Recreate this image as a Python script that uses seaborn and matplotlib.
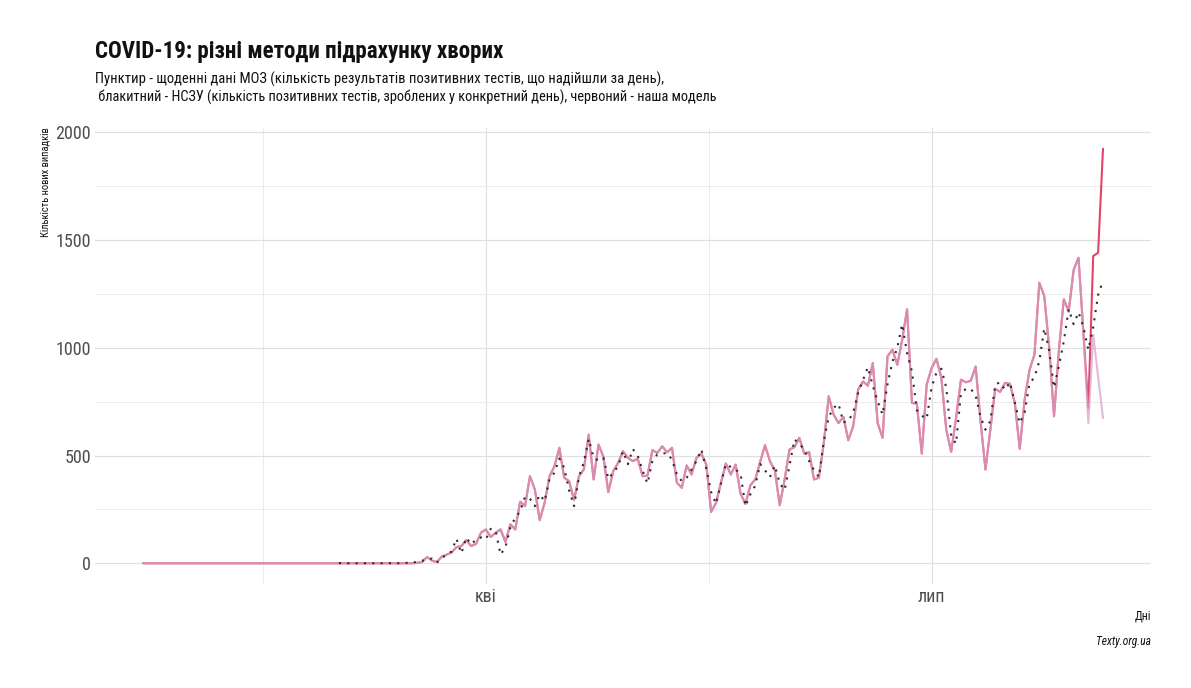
import numpy as np
import pandas as pd
import matplotlib
matplotlib.use("Agg")
import matplotlib.pyplot as plt
from matplotlib import font_manager
import seaborn as sns

# ---------------- data ----------------
model_start = "2020-01-22"   # червоний - модель / блакитний - НСЗУ
moz_start = "2020-03-02"     # пунктир - МОЗ

model_values = [
    0, 0, 0, 0, 0, 0, 0, 0, 0, 0, 0, 0, 0, 0, 0, 0, 0, 0, 0, 0, 0, 0, 0, 0, 0, 0, 0, 0,
    0, 0, 0, 0, 0, 0, 0, 0, 0, 0, 0, 0, 0, 0, 0, 0, 0, 0, 0, 0, 0, 0, 0, 0, 0, 0, 0, 0,
    2, 6, 29, 12, 6, 31, 40, 50, 75, 80, 108, 80, 90, 142,
    157, 122, 142, 157, 99, 181, 157, 286, 265, 404, 343, 200, 281, 404, 450, 536,
    397, 381, 293, 404, 435, 597, 389, 551,
    494, 330, 427, 466, 520, 489, 474, 485, 404, 407, 525, 512, 543, 515, 536, 374,
    350, 454, 412, 489, 509, 458,
    238, 281, 374, 463, 412, 458, 323, 275, 362, 389, 470, 548, 474, 431, 269, 389,
    528, 539, 582, 509, 516, 389, 397, 559, 775, 690, 651, 679, 571, 636, 806, 844,
    824, 929, 650,
    582, 960, 991, 921, 1037, 1179, 744, 741, 509, 829, 906, 949, 860, 620, 517, 674,
    852, 840, 847, 913, 660, 435, 620, 810, 795, 837, 833, 744, 531, 759, 898, 968,
    1302, 1241, 1005, 682, 990, 1225, 1168, 1361, 1418, 1070, 721, 1426, 1441, 1924,
]

nszu_values = [
    0, 0, 0, 0, 0, 0, 0, 0, 0, 0, 0, 0, 0, 0, 0, 0, 0, 0, 0, 0, 0, 0, 0, 0, 0, 0, 0, 0,
    0, 0, 0, 0, 0, 0, 0, 0, 0, 0, 0, 0, 0, 0, 0, 0, 0, 0, 0, 0, 0, 0, 0, 0, 0, 0, 0, 0,
    2, 6, 29, 12, 6, 31, 40, 50, 75, 80, 108, 80, 90, 142,
    157, 122, 142, 157, 99, 181, 157, 286, 265, 404, 343, 200, 281, 404, 450, 536,
    397, 381, 293, 404, 435, 597, 389, 551,
    494, 330, 427, 466, 520, 489, 474, 485, 404, 407, 525, 512, 543, 515, 536, 374,
    350, 454, 412, 489, 509, 458,
    238, 281, 374, 463, 412, 458, 323, 275, 362, 389, 470, 548, 474, 431, 269, 389,
    528, 539, 582, 509, 516, 389, 397, 559, 775, 690, 651, 679, 571, 636, 806, 844,
    824, 929, 650,
    582, 960, 991, 921, 1037, 1179, 744, 741, 509, 829, 906, 949, 860, 620, 517, 674,
    852, 840, 847, 913, 660, 435, 620, 810, 795, 837, 833, 744, 531, 759, 898, 968,
    1302, 1241, 1005, 682, 990, 1225, 1168, 1361, 1418, 1070, 651, 1060, 867, 674,
]

moz_values = [
    1, 0, 0, 0, 0, 0, 0, 0, 0, 0, 1, 0, 0, 2, 2,
    2, 8, 12, 16, 22, 3, 25, 40, 55, 114, 46, 119, 88, 110, 120,
    111, 160, 150, 40, 75, 165, 212, 240, 309, 300, 265, 319, 288, 392, 420, 486,
    443, 338, 265, 400, 469, 577, 490, 477,
    489, 392, 420, 450, 520, 460, 530, 500, 430, 370, 475, 505, 509, 512, 481, 412,
    381, 397, 435, 475, 528, 440,
    330, 276, 370, 461, 447, 435, 415, 265, 320, 360, 461, 431, 400, 454, 370, 340,
    454, 575, 555, 528, 475, 432, 400, 569, 679, 721, 740, 654, 660, 700, 790, 850,
    910, 824, 751,
    690, 830, 934, 1000, 1110, 975, 890, 710, 685, 670, 816, 886, 903, 815, 590, 555,
    790, 809, 810, 778, 680, 620, 660, 830, 840, 805, 840, 744, 650, 700, 833, 864,
    937, 1090, 990, 815, 917, 1030, 1180, 1110, 1165, 1096, 991, 1096, 1245, 1312,
]

x_tick_dates = ["2020-04-01", "2020-07-01"]
x_tick_labels = ["кві", "лип"]
x_minor_dates = ["2020-02-15 12:00", "2020-05-16 12:00"]
y_ticks = [0, 500, 1000, 1500, 2000]
y_minor = [250, 750, 1250, 1750]

title = "COVID-19: різні методи підрахунку хворих"
subtitle_1 = "Пунктир - щоденні дані МОЗ (кількість результатів позитивних тестів, що надійшли за день),"
subtitle_2 = " блакитний - НСЗУ (кількість позитивних тестів, зроблених у конкретний день), червоний - наша модель"
y_label = "Кількість нових випадків"
x_label = "Дні"
caption = "Texty.org.ua"

df_model = pd.DataFrame({"date": pd.date_range(model_start, periods=len(model_values), freq="D"),
                         "model": model_values, "nszu": nszu_values})
df_moz = pd.DataFrame({"date": pd.date_range(moz_start, periods=len(moz_values), freq="D"),
                       "moz": moz_values})

# ---------------- fonts ----------------
sns.set_theme(style="white")
available = {f.name for f in font_manager.fontManager.ttflist}
narrow = "DejaVu Sans"
for cand in ["Liberation Sans Narrow", "Roboto Condensed", "Open Sans Condensed", "Liberation Sans"]:
    if cand in available:
        narrow = cand
        break
plt.rcParams["font.family"] = [narrow, "DejaVu Sans"]

W, H = 1191, 688
fig = plt.figure(figsize=(W / 100, H / 100), dpi=100)
ax = fig.add_axes([95 / W, 1 - 584 / H, (1151 - 95) / W, (584 - 128) / H])

# ---------------- lines ----------------
sns.lineplot(data=df_model, x="date", y="model", ax=ax, color="#e2456c", lw=1.5,
             zorder=3)
sns.lineplot(data=df_model, x="date", y="nszu", ax=ax, color="#d7a5c8", lw=1.5, alpha=0.75,
             zorder=4)
sns.lineplot(data=df_moz, x="date", y="moz", ax=ax, color="#2b2b2b", lw=1.5, zorder=5,
             linestyle=(0, (1, 3)))

# ---------------- axes ----------------
start = pd.Timestamp(model_start)
end = df_model["date"].iloc[-1]
span = (end - start).days
ax.set_xlim(start - pd.Timedelta(days=span * 0.05), end + pd.Timedelta(days=span * 0.05))
ymax = max(model_values + nszu_values + moz_values)
ax.set_ylim(-ymax * 0.05, ymax * 1.05)

ax.set_xticks(pd.to_datetime(x_tick_dates))
ax.set_xticklabels(x_tick_labels)
ax.set_xticks(pd.to_datetime(x_minor_dates), minor=True)
ax.set_yticks(y_ticks)
ax.set_yticklabels([str(v) for v in y_ticks])
ax.set_yticks(y_minor, minor=True)

ax.grid(which="major", color="#e0e0e0", lw=0.9)
ax.grid(which="minor", color="#ebebeb", lw=0.7)
ax.set_axisbelow(True)
for s in ax.spines.values():
    s.set_visible(False)
ax.tick_params(axis="both", which="both", length=0, colors="#4d4d4d", labelsize=13)
ax.tick_params(axis="x", pad=3)
ax.tick_params(axis="y", pad=3)
ax.set_xlabel("")
ax.set_ylabel("")

# ---------------- texts ----------------
fig.text(95 / W, 1 - 58 / H, title, fontsize=16.6, fontweight="bold", color="#111111",
         ha="left", va="baseline")
fig.text(95 / W, 1 - 84 / H, subtitle_1, fontsize=10.5, color="#111111", ha="left",
         va="baseline")
fig.text(95 / W, 1 - 101.5 / H, subtitle_2, fontsize=10.4, color="#111111", ha="left",
         va="baseline")
fig.text(45 / W, 1 - 127 / H, y_label, fontsize=7.6, rotation=90, color="#111111",
         ha="center", va="top")
fig.text(1151 / W, 1 - 616 / H, x_label, fontsize=8.5, color="#111111", ha="right", va="center")
fig.text(1151 / W, 1 - 641 / H, caption, fontsize=8.3, style="italic", color="#111111",
         ha="right", va="center")

fig.savefig("out.png", dpi=100)
